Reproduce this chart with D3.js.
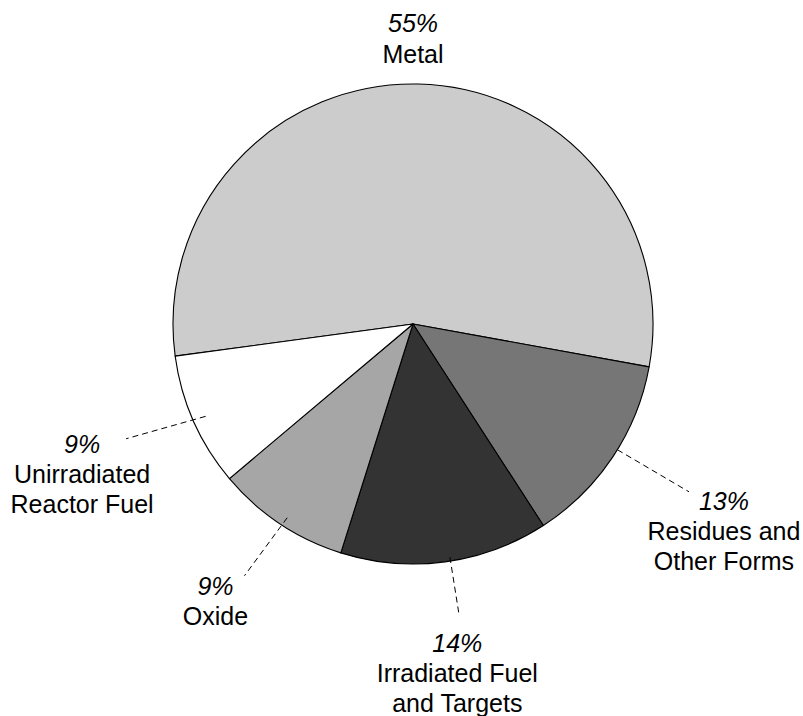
<!DOCTYPE html>
<html>
<head>
<meta charset="utf-8">
<script src="https://cdn.jsdelivr.net/npm/d3@7/dist/d3.min.js"></script>
<style>
  html, body { margin: 0; padding: 0; background: #fff; }
  svg { display: block; }
  text { font-family: "Liberation Sans", Arial, Helvetica, sans-serif; font-size: 25px; fill: #000; }
</style>
</head>
<body>
<svg id="chart" width="803" height="716"></svg>
<script>
// ---- data ----
const categories = ["Metal", "Residues and Other Forms", "Irradiated Fuel and Targets", "Oxide", "Unirradiated Reactor Fuel"];
const labelLines = [["Metal"], ["Residues and", "Other Forms"], ["Irradiated Fuel", "and Targets"], ["Oxide"], ["Unirradiated", "Reactor Fuel"]];
const values = [55, 13, 14, 9, 9];
const fills = ["#cccccc", "#767676", "#333333", "#a6a6a6", "#ffffff"];

// ---- layout ----
const cx = 413, cy = 324, R = 240;
const startAngle = -97.7 * Math.PI / 180;
// leader lines: [startRadius, startAngleDeg, endRadius, endAngleDeg] (null = none)
const leaders = [null, [240, 121.6, 323, 121.3], [236, 171.0, 296, 171.0], [231, 213.0, 303, 213.8], [227, 246.0, 309, 248.2]];
// label block offset relative to leader end (center x, first baseline y)
const labelOff = [null, [35, 18], [-2, 36], [-29, 19], [-44, 14]];

const svg = d3.select("#chart");
const g = svg.append("g").attr("transform", `translate(${cx},${cy})`);

const pie = d3.pie().sort(null).value(d => d)
  .startAngle(startAngle).endAngle(startAngle + 2 * Math.PI);
const arcs = pie(values);
const arc = d3.arc().innerRadius(0).outerRadius(R);

g.selectAll("path.slice").data(arcs).enter().append("path")
  .attr("class", "slice")
  .attr("d", arc)
  .attr("fill", (d, i) => fills[i])
  .attr("stroke", "#000")
  .attr("stroke-width", 1.1)
  .attr("stroke-linejoin", "round");

function polar(r, deg) { const a = deg * Math.PI / 180; return [r * Math.sin(a), -r * Math.cos(a)]; }

function addLabel(i, tx, ty, gap) {
  const block = g.append("text").attr("text-anchor", "middle");
  block.append("tspan").attr("x", tx).attr("y", ty)
    .attr("font-style", "italic").text(values[i] + "%");
  labelLines[i].forEach((ln, k) => {
    block.append("tspan").attr("x", tx).attr("y", ty + gap * (k + 1)).text(ln);
  });
}

arcs.forEach((d, i) => {
  if (leaders[i] === null) {
    addLabel(i, 0, 32 - cy, 31);
    return;
  }
  const [r0, a0, r1, a1] = leaders[i];
  const p0 = polar(r0, a0);
  const p1 = polar(r1, a1);
  g.append("line")
    .attr("x1", p0[0]).attr("y1", p0[1])
    .attr("x2", p1[0]).attr("y2", p1[1])
    .attr("stroke", "#000").attr("stroke-width", 1)
    .attr("stroke-dasharray", "6,4");
  addLabel(i, p1[0] + labelOff[i][0], p1[1] + labelOff[i][1], 30);
});
</script>
</body>
</html>
